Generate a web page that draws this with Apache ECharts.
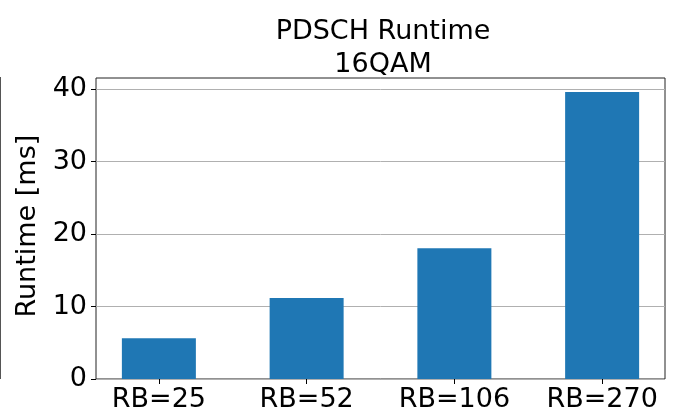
<!DOCTYPE html>
<html>
<head>
<meta charset="utf-8">
<script src="https://cdn.jsdelivr.net/npm/echarts@6/dist/echarts.min.js"></script>
<style>
  html, body { margin: 0; padding: 0; background: #fff; }
  #chart { width: 685px; height: 415px; }
</style>
</head>
<body>
<div id="chart"></div>
<script>
  // data
  const categories = ['RB=25', 'RB=52', 'RB=106', 'RB=270'];
  const runtimeMs = [5.65, 11.2, 18.1, 39.7];
  const yTicks = [0, 10, 20, 30, 40];

  const font = 'DejaVu Sans';
  const fs = 27;
  const yTop = 41.65; // upper limit of the frame (in ms)

  const chart = echarts.init(document.getElementById('chart'), null, { renderer: 'canvas' });
  const option = {
    animation: false,
    backgroundColor: '#fff',
    title: {
      text: 'PDSCH Runtime\n16QAM',
      left: 378,
      top: 10,
      textAlign: 'center',
      textStyle: { fontFamily: font, fontSize: fs, fontWeight: 'normal', color: '#000', lineHeight: 33 }
    },
    // a bit of the neighbouring subplot's frame is cut off at the left edge
    graphic: [{
      type: 'line',
      shape: { x1: 0.5, y1: 77, x2: 0.5, y2: 379 },
      style: { stroke: '#555', lineWidth: 1 }
    }],
    grid: [
      // gridlines + y ticks (0..40)
      { left: 96, right: 20, top: 89.3, bottom: 36 },
      // bars (matplotlib-like x margins)
      { left: 85, width: 591, top: 78, bottom: 36 },
      // frame
      { left: 96, right: 20, top: 78, bottom: 36, show: true, borderColor: '#222', borderWidth: 1, backgroundColor: 'transparent' }
    ],
    xAxis: [
      { gridIndex: 0, type: 'category', data: categories, show: false },
      {
        gridIndex: 1, type: 'category', data: categories,
        axisLine: { show: false },
        axisTick: { show: true, alignWithLabel: true, length: 5, lineStyle: { color: '#000' } },
        axisLabel: { fontFamily: font, fontSize: fs, color: '#000', margin: 7 }
      },
      { gridIndex: 2, type: 'category', data: categories, show: false }
    ],
    yAxis: [
      {
        gridIndex: 0, type: 'value', min: 0, max: 40, interval: 10,
        name: 'Runtime [ms]', nameLocation: 'middle', nameGap: 45,
        nameTextStyle: { fontFamily: font, fontSize: fs, color: '#000', padding: [0, 0, 0, 16] },
        axisLine: { show: false },
        axisTick: { show: true, length: 5, lineStyle: { color: '#000' } },
        axisLabel: {
          fontFamily: font, fontSize: fs, color: '#000', margin: 9,
          formatter: v => (yTicks.includes(v) ? String(v) : '')
        },
        splitLine: { show: true, lineStyle: { color: '#b0b0b0', width: 1 } }
      },
      { gridIndex: 1, type: 'value', min: 0, max: yTop, show: false, splitLine: { show: false } },
      { gridIndex: 2, type: 'value', min: 0, max: yTop, show: false, splitLine: { show: false } }
    ],
    series: [{
      type: 'bar',
      xAxisIndex: 1,
      yAxisIndex: 1,
      data: runtimeMs,
      barWidth: 74,
      itemStyle: { color: '#1f77b4' }
    }]
  };
  chart.setOption(option);
</script>
</body>
</html>
